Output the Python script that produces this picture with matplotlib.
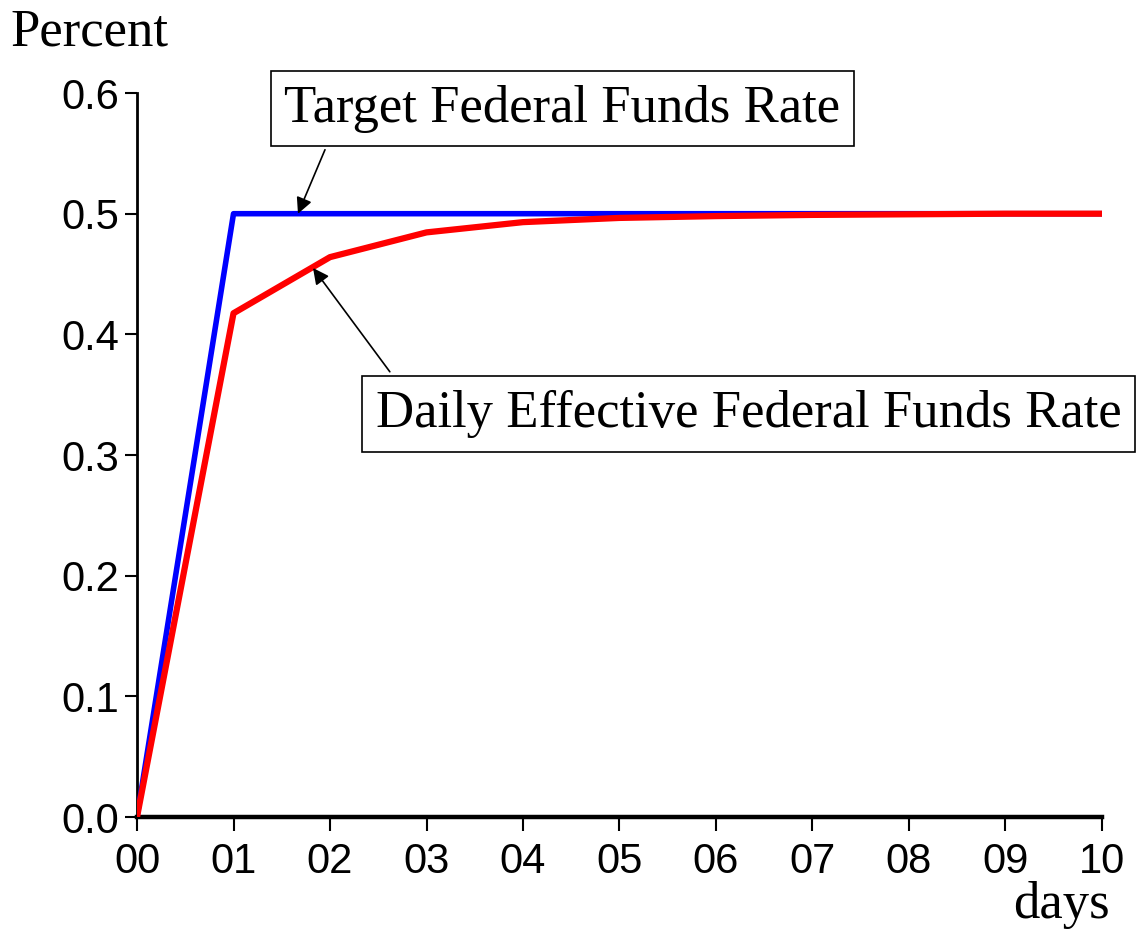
import matplotlib
matplotlib.use("Agg")
import matplotlib.pyplot as plt
from matplotlib import font_manager

days = [0, 1, 2, 3, 4, 5, 6, 7, 8, 9, 10]
target_rate = [0.0, 0.5, 0.5, 0.5, 0.5, 0.5, 0.5, 0.5, 0.5, 0.5, 0.5]
effective_rate = [0.0, 0.4175, 0.464, 0.4845, 0.493, 0.4965, 0.498, 0.499, 0.4995, 0.5, 0.5]
xtick_labels = ["00", "01", "02", "03", "04", "05", "06", "07", "08", "09", "10"]
ytick_values = [0.0, 0.1, 0.2, 0.3, 0.4, 0.5, 0.6]

names = {f.name for f in font_manager.fontManager.ttflist}
sans = "Liberation Sans Narrow" if "Liberation Sans Narrow" in names else "Liberation Sans"
serif = "Liberation Serif"

fig = plt.figure(figsize=(11.37, 9.35), dpi=100)
ax = fig.add_axes([0.1205, 0.1262, 0.9692 - 0.1205, 0.9005 - 0.1262])

ax.plot(days, target_rate, color="#0000ff", lw=4.0, zorder=3)
ax.plot(days, effective_rate, color="#ff0000", lw=4.5, zorder=4)

ax.set_xlim(0, 10)
ax.set_ylim(0, 0.6)
ax.set_xticks(days)
ax.set_xticklabels(xtick_labels)
ax.set_yticks(ytick_values)
ax.set_yticklabels([f"{v:.1f}" for v in ytick_values])

for lab in ax.get_xticklabels() + ax.get_yticklabels():
    lab.set_fontfamily(sans)
    lab.set_fontsize(30)

ax.spines["top"].set_visible(False)
ax.spines["right"].set_visible(False)
ax.spines["left"].set_linewidth(2.0)
ax.spines["bottom"].set_linewidth(3.2)
ax.tick_params(axis="x", direction="out", length=10, width=1.5, pad=8)
ax.tick_params(axis="y", direction="out", length=9, width=1.5, pad=4)

fig.text(10 / 1137, 1 - 32 / 935, "Percent", family=serif, fontsize=38, va="center", ha="left")
fig.text(1110 / 1137, 1 - 905 / 935, "days", family=serif, fontsize=38, va="center", ha="right")

bbox = dict(boxstyle="square,pad=0.26", fc="white", ec="black", lw=1.2)
ax.text(4.41, 0.587, "Target Federal Funds Rate", family=serif, fontsize=38,
        ha="center", va="center", bbox=bbox, zorder=6)
ax.text(6.34, 0.334, "Daily Effective Federal Funds Rate", family=serif, fontsize=38,
        ha="center", va="center", bbox=bbox, zorder=6)

arrow = dict(arrowstyle="-|>", color="black", lw=1.2, mutation_scale=24, shrinkA=0, shrinkB=0)
ax.annotate("", xy=(1.668, 0.5), xytext=(1.948, 0.553), arrowprops=arrow, zorder=6)
ax.annotate("", xy=(1.824, 0.455), xytext=(2.62, 0.369), arrowprops=arrow, zorder=6)

fig.savefig("out.png", dpi=100)
